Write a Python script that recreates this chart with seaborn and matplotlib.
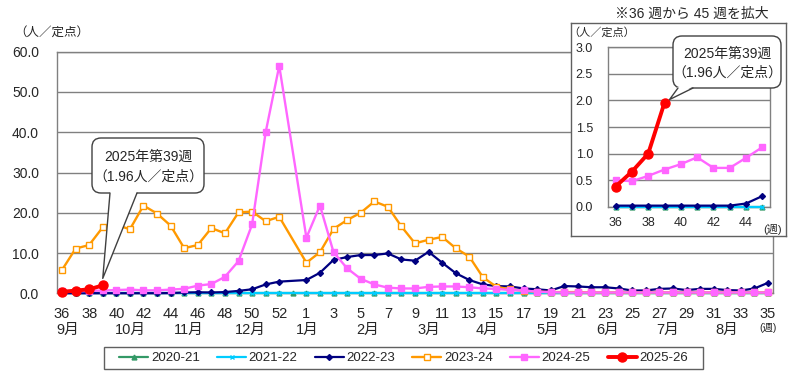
import numpy as np
import pandas as pd
import matplotlib
matplotlib.use("Agg")
import matplotlib.pyplot as plt
import seaborn as sns
from matplotlib.patches import FancyBboxPatch, Polygon, Rectangle
from matplotlib.lines import Line2D
from matplotlib.transforms import IdentityTransform

W, H = 800, 383
nan = np.nan

# x slots: week 36 .. 53, then week 1 .. 35
weeks = list(range(36, 54)) + list(range(1, 36))
months = ['9月', '10月', '11月', '12月', '1月', '2月', '3月', '4月', '5月', '6月', '7月', '8月']
month_slot = [0.45, 5.0, 9.3, 13.9, 18.1, 22.5, 27.0, 31.3, 35.8, 40.2, 44.6, 49.0]

# weekly reports per sentinel (人/定点), one list per season, starting at week 36
s2020 = [0.0, 0.0, 0.0, 0.0, 0.0, 0.0, 0.0, 0.0, 0.0, 0.0, 0.0, 0.0, 0.0, 0.0, 0.0, 0.0, 0.0, 0.0,
         0.0, 0.0, 0.0, 0.0, 0.0, 0.0, 0.0, 0.0, 0.0, 0.0, 0.0, 0.0, 0.0, 0.0, 0.0, 0.0, 0.0, 0.0,
         0.0, 0.0, 0.0, 0.0, 0.0, 0.0, 0.0, 0.0, 0.0, 0.0, 0.0, 0.0, 0.0, 0.0, 0.0, 0.0, 0.0]
s2021 = [0.0, 0.0, 0.0, 0.0, 0.0, 0.0, 0.0, 0.0, 0.0, 0.0, 0.0, 0.0, 0.0, 0.0, 0.0, 0.0, 0.0, nan,
         0.0, 0.0, 0.0, 0.0, 0.0, 0.0, 0.0, 0.0, 0.0, 0.0, 0.0, 0.0, 0.0, 0.0, 0.0, 0.0, 0.0, 0.0,
         0.0, 0.0, 0.0, 0.0, 0.0, 0.0, 0.0, 0.0, 0.0, 0.0, 0.0, 0.0, 0.0, 0.0, 0.0, 0.0, 0.0]
s2022 = [0.02, 0.02, 0.02, 0.02, 0.02, 0.02, 0.02, 0.02, 0.06, 0.2, 0.25, 0.2, 0.3, 0.6, 1.0, 2.2, 2.9, nan,
         3.3, 5.1, 8.3, 9.0, 9.5, 9.5, 9.9, 8.4, 8.1, 10.3, 7.6, 5.0, 3.3, 2.2, 1.8, 1.7, 1.2, 1.0,
         0.7, 1.8, 1.7, 1.5, 1.5, 1.2, 0.7, 0.7, 1.1, 1.2, 0.8, 1.1, 1.1, 0.8, 0.7, 1.2, 2.6]
s2023 = [5.8, 11.1, 12.0, 16.4, 17.0, 15.9, 21.8, 19.8, 16.8, 11.2, 12.0, 16.2, 14.9, 20.1, 20.3, 17.9, 19.0, nan,
         7.6, 10.2, 16.0, 18.2, 20.0, 22.8, 21.5, 16.6, 12.4, 13.3, 14.0, 11.2, 9.1, 4.0, 1.6, 1.0, 0.6, 0.4,
         0.3, 0.3, 0.3, 0.2, 0.2, 0.2, 0.2, 0.2, 0.2, 0.2, 0.2, 0.2, 0.2, 0.2, 0.2, 0.2, 0.2]
s2024 = [0.5, 0.48, 0.58, 0.7, 0.8, 0.93, 0.73, 0.73, 0.92, 1.12, 1.9, 2.3, 4.1, 8.0, 17.1, 40.0, 56.5, nan,
         13.8, 21.8, 10.2, 6.2, 3.6, 2.2, 1.4, 1.2, 1.2, 1.6, 1.7, 1.7, 1.5, 1.2, 1.1, 0.8, 0.7, 0.4,
         0.3, 0.2, 0.2, 0.2, 0.2, 0.2, 0.2, 0.2, 0.2, 0.2, 0.2, 0.2, 0.2, 0.2, 0.2, 0.2, 0.2]
s2025 = [0.38, 0.66, 1.0, 1.96]

seasons = {'2020-21': s2020, '2021-22': s2021, '2022-23': s2022,
           '2023-24': s2023, '2024-25': s2024, '2025-26': s2025}

# color, marker, markersize, linewidth, marker face
styles = {
    '2020-21': ('#339966', '^', 3.5, 1.6, '#339966'),
    '2021-22': ('#00CCFF', 'x', 3.5, 1.6, '#00CCFF'),
    '2022-23': ('#000080', 'D', 3.0, 1.6, '#000080'),
    '2023-24': ('#FF9900', 's', 4.0, 1.7, 'white'),
    '2024-25': ('#FF66FF', 's', 4.3, 1.7, '#FF66FF'),
    '2025-26': ('#FF0000', 'o', 6.5, 2.8, '#FF0000'),
}

rows = []
for name, vals in seasons.items():
    for i, v in enumerate(vals):
        rows.append((name, i, weeks[i], v))
df = pd.DataFrame(rows, columns=['season', 'slot', 'week', 'value']).dropna()

sns.set_style('white')
plt.rcParams['font.family'] = ['Liberation Sans', 'Noto Sans CJK JP', 'DejaVu Sans']
GRAY = '#808080'

fig = plt.figure(figsize=(8, 3.83), dpi=100)
ax = fig.add_axes([57 / W, 1 - 293.3 / H, 716 / W, 241.6 / H])


def draw_series(axis, data, xcol):
    for name in seasons:
        c, m, ms, lw, mfc = styles[name]
        d = data[data.season == name]
        if len(d) == 0:
            continue
        sns.lineplot(data=d, x=xcol, y='value', ax=axis, color=c, marker=m, markersize=ms,
                     linewidth=lw, markerfacecolor=mfc, markeredgecolor=c, markeredgewidth=1,
                     label=name, clip_on=False, zorder=3)


draw_series(ax, df, 'slot')
handles, labels = ax.get_legend_handles_labels()
ax.get_legend().remove()

ax.set_xlim(-0.37, 52.37)
ax.set_ylim(0, 60)
ax.set_yticks(np.arange(0, 61, 10))
ax.set_yticklabels([f'{v:.1f}' for v in np.arange(0, 61, 10)], fontsize=10)
ax.set_xticks(range(0, 53, 2))
ax.set_xticklabels([str(weeks[i]) for i in range(0, 53, 2)], fontsize=10.5)
ax.set_xticks(range(1, 53, 2), minor=True)
ax.tick_params(axis='y', length=0, pad=13)
ax.tick_params(axis='x', which='both', direction='in', length=3, color=GRAY, pad=10)
ax.grid(axis='y', color=GRAY, lw=1)
ax.set_axisbelow(True)
for sp in ax.spines.values():
    sp.set_color(GRAY)
    sp.set_linewidth(1)
ax.set_xlabel('')
ax.set_ylabel('')

for lab, pos in zip(months, month_slot):
    ax.text(pos, -0.152, lab, transform=ax.get_xaxis_transform(), ha='center', va='center', fontsize=10.5)
ax.text(52, -0.145, '(週)', transform=ax.get_xaxis_transform(), ha='center', va='center', fontsize=7.5)
fig.text(52 / W, 1 - 33 / H, '（人／定点）', ha='center', va='center', fontsize=9)

# inset: weeks 36-45 enlarged
box_ax = fig.add_axes([571 / W, 1 - 236 / H, 215 / W, 213 / H], zorder=4)
box_ax.set_xticks([])
box_ax.set_yticks([])
box_ax.set_facecolor('white')
for sp in box_ax.spines.values():
    sp.set_color('#606060')
    sp.set_linewidth(1)

ins = fig.add_axes([608.3 / W, 1 - 206.7 / H, 161.7 / W, 159.4 / H], zorder=5)
sub = df[(df.slot <= 9) & (df.season != '2023-24')]  # 2023-24 is off this scale
draw_series(ins, sub, 'week')
ins.get_legend().remove()
ins.set_xlim(35.55, 45.47)
ins.set_ylim(0, 3)
ins.set_xticks(range(36, 46, 2))
ins.set_xticklabels([str(w) for w in range(36, 46, 2)], fontsize=9)
ins.set_yticks(np.arange(0, 3.01, 0.5))
ins.set_yticklabels([f'{v:.1f}' for v in np.arange(0, 3.01, 0.5)], fontsize=9)
ins.tick_params(axis='y', length=0, pad=11)
ins.tick_params(axis='x', length=0, pad=7.4)
ins.grid(axis='y', color=GRAY, lw=1)
ins.set_axisbelow(True)
for sp in ins.spines.values():
    sp.set_color(GRAY)
    sp.set_linewidth(1)
ins.set_xlabel('')
ins.set_ylabel('')
fig.text(773 / W, 1 - 229 / H, '(週)', ha='center', va='center', fontsize=8, zorder=6)
fig.text(602 / W, 1 - 32.5 / H, '（人／定点）', ha='center', va='center', fontsize=8, zorder=6)
fig.text(692 / W, 1 - 14 / H, '※36 週から 45 週を拡大', ha='center', va='center', fontsize=10)


def bubble(axis, box, base, tip, lines):
    # box / base in image pixels (top-left origin), tip in display pixels
    x0, y0, x1, y1 = box
    tr = IdentityTransform()
    axis.add_artist(FancyBboxPatch((x0, H - y1), x1 - x0, y1 - y0,
                                   boxstyle='round,pad=0,rounding_size=9', fc='white',
                                   ec='#404040', lw=1, transform=tr, clip_on=False, zorder=20))
    yb = H - y1
    axis.add_artist(Polygon([(base[0], yb + 1.5), (base[1], yb + 1.5), tip], closed=True,
                            fc='white', ec='none', transform=tr, clip_on=False, zorder=21))
    axis.add_artist(Line2D([base[0], tip[0], base[1]], [yb, tip[1], yb], color='#404040', lw=1,
                           transform=tr, clip_on=False, zorder=22))
    cx = (x0 + x1) / 2
    for k, t in enumerate(lines):
        axis.text(cx, H - (y0 + (y1 - y0) * (0.35 + 0.35 * k)), t, transform=tr, ha='center',
                  va='center', fontsize=10, zorder=23, clip_on=False)


last_slot = len(s2025) - 1
label = [f'{2025}年第{weeks[last_slot]}週', f'（{s2025[-1]:.2f}人／定点）']

px, py = ax.transData.transform((last_slot, s2025[-1]))
bubble(ax, (92, 138, 204, 193), (110, 137), (px, py + 7), label)

px, py = ins.transData.transform((weeks[last_slot], s2025[-1]))
bubble(ins, (673, 36, 781, 88), (678, 693), (px + 5, py + 3), label)

# legend in a plain box below the plot
fig.legend(handles, labels, loc='center', bbox_to_anchor=(403.7 / W, 1 - 358 / H), ncol=6,
           frameon=False, handlelength=2.2, handletextpad=0.2, columnspacing=1.3, fontsize=9.5)
fig.add_artist(Rectangle((104.3 / W, 1 - 369 / H), 598.7 / W, 22.3 / H, transform=fig.transFigure,
                         fill=False, ec='#606060', lw=1))

fig.savefig('out.png', dpi=100)
